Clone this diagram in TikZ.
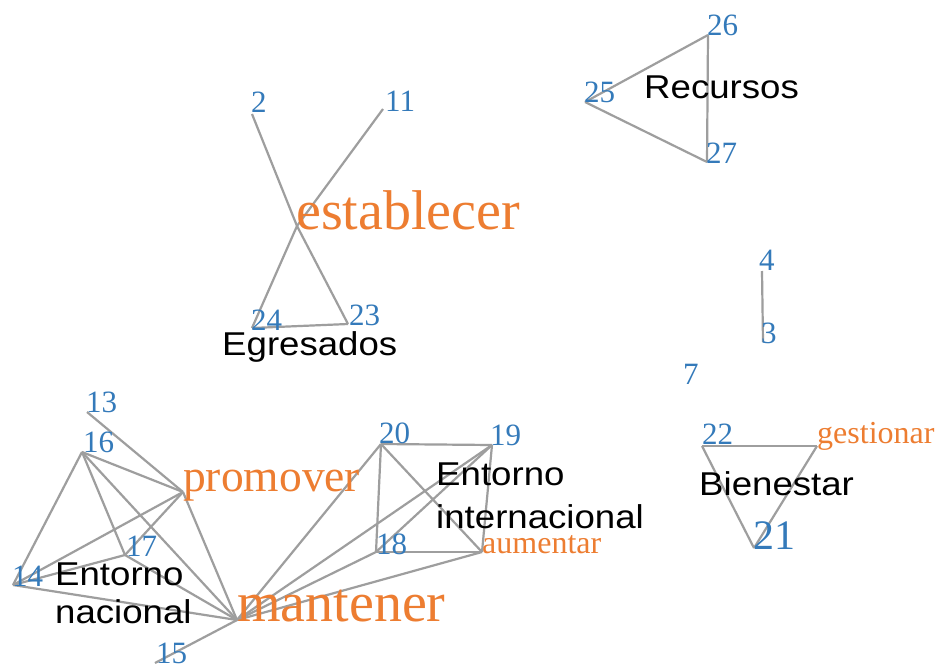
\documentclass[tikz,border=0pt]{standalone}
\usepackage{fontspec}
\newfontfamily\serifnum{Liberation Serif}
\newfontfamily\sanslab[FakeStretch=1.11]{Liberation Sans}
\definecolor{numblue}{RGB}{52,122,186}
\definecolor{verbor}{RGB}{237,125,49}
\definecolor{edgegray}{RGB}{158,158,158}
\begin{document}
\begin{tikzpicture}[x=1pt,y=-1pt,
  edge/.style={draw=edgegray,line width=2.2pt},
  num/.style={anchor=base west,inner sep=0pt,text=numblue,font=\serifnum\fontsize{31}{31}\selectfont},
  bignum/.style={num,font=\serifnum\fontsize{42}{42}\selectfont},
  verbsm/.style={anchor=base west,inner sep=0pt,text=verbor,font=\serifnum\fontsize{32}{32}\selectfont},
  verbmd/.style={anchor=base west,inner sep=0pt,text=verbor,font=\serifnum\fontsize{45.5}{45.5}\selectfont},
  verblg/.style={anchor=base west,inner sep=0pt,text=verbor,font=\serifnum\fontsize{56}{56}\selectfont},
  topic/.style={anchor=base west,inner sep=0pt,text=black,align=left,font=\sanslab\fontsize{33}{38}\selectfont}]
\fill[white] (0,0) rectangle (937,664);
\useasboundingbox (0,0) rectangle (937,664);
% vertex points
\coordinate (v2) at (252,114);
\coordinate (v11) at (383,109);
\coordinate (est) at (297,226);
\coordinate (v24) at (252,328);
\coordinate (v23) at (348,324);
\coordinate (v26) at (708,35);
\coordinate (v25) at (585,102);
\coordinate (v27) at (707,162);
\coordinate (v4) at (762,271);
\coordinate (v3) at (763,342);
\coordinate (v22) at (702,446);
\coordinate (gest) at (817,446);
\coordinate (v21) at (754,548);
\coordinate (v13) at (87,412);
\coordinate (v16) at (82,452);
\coordinate (prom) at (183,492);
\coordinate (v17) at (125,555);
\coordinate (v14) at (13,585);
\coordinate (mant) at (237,620);
\coordinate (v15) at (155,663);
\coordinate (v20) at (381,444);
\coordinate (v19) at (492,445);
\coordinate (v18) at (376,552);
\coordinate (aum) at (482,552);
% edges
\draw[edge] (v2) -- (est);
\draw[edge] (v11) -- (est);
\draw[edge] (est) -- (v24);
\draw[edge] (est) -- (v23);
\draw[edge] (v24) -- (v23);
\draw[edge] (v25) -- (v26);
\draw[edge] (v25) -- (v27);
\draw[edge] (v26) -- (v27);
\draw[edge] (v4) -- (v3);
\draw[edge] (v22) -- (gest);
\draw[edge] (v22) -- (v21);
\draw[edge] (gest) -- (v21);
\draw[edge] (v13) -- (prom);
\draw[edge] (v16) -- (prom);
\draw[edge] (v16) -- (v14);
\draw[edge] (v16) -- (v17);
\draw[edge] (v16) -- (mant);
\draw[edge] (v14) -- (prom);
\draw[edge] (v14) -- (v17);
\draw[edge] (v14) -- (mant);
\draw[edge] (v17) -- (prom);
\draw[edge] (v17) -- (mant);
\draw[edge] (prom) -- (mant);
\draw[edge] (mant) -- (v15);
\draw[edge] (mant) -- (v20);
\draw[edge] (mant) -- (v19);
\draw[edge] (mant) -- (v18);
\draw[edge] (mant) -- (aum);
\draw[edge] (v20) -- (v19);
\draw[edge] (v20) -- (v18);
\draw[edge] (v20) -- (aum);
\draw[edge] (v19) -- (aum);
\draw[edge] (v18) -- (aum);
\draw[edge] (v18) -- (v19);
% labels
\node[num] (l2) at (251,112) {2};
\node[num] (l11) at (385,111) {11};
\node[verblg] (lest) at (296,229) {establecer};
\node[num] (l24) at (251,330) {24};
\node[num] (l23) at (349,325) {23};
\node[topic] (legr) at (222,355) {Egresados};
\node[num] (l26) at (707,35) {26};
\node[num] (l25) at (584,102) {25};
\node[num] (l27) at (706,163) {27};
\node[topic] (lrec) at (644,98) {Recursos};
\node[num] (l4) at (759,270) {4};
\node[num] (l3) at (761,343) {3};
\node[num] (l7) at (683,384) {7};
\node[num] (l22) at (702,444) {22};
\node[verbsm] (lgest) at (817,443) {gestionar};
\node[bignum] (l21) at (753,549) {21};
\node[topic] (lbien) at (699,495) {Bienestar};
\node[num] (l13) at (86,412) {13};
\node[num] (l16) at (83,452) {16};
\node[verbmd] (lprom) at (183,491) {promover};
\node[num] (l17) at (126,556) {17};
\node[num] (l14) at (12,586) {14};
\node[topic] (lnac) at (55,623) {Entorno\\nacional};
\node[verblg] (lmant) at (237,621) {mantener};
\node[num] (l15) at (156,663) {15};
\node[num] (l20) at (379,443) {20};
\node[num] (l19) at (490,445) {19};
\node[num] (l18) at (376,554) {18};
\node[verbsm] (laum) at (482,553) {aumentar};
\node[topic,font=\sanslab\fontsize{33}{43}\selectfont] (lint) at (436,528) {Entorno\\internacional};
\end{tikzpicture}
\end{document}
